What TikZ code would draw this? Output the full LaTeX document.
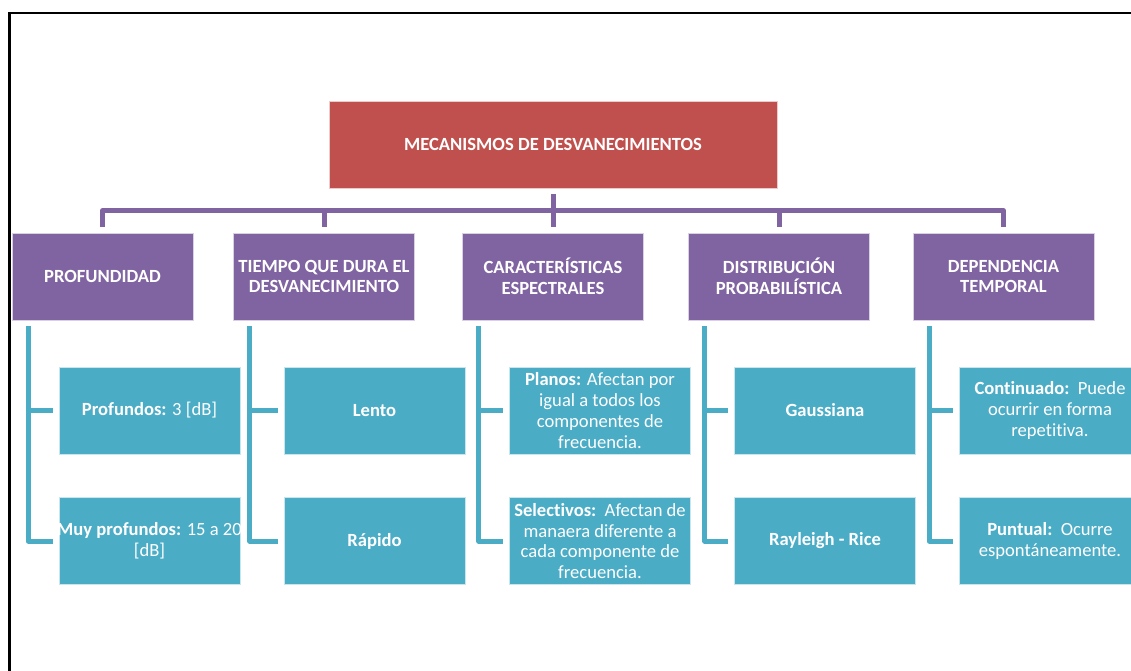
\documentclass[tikz,border=0pt]{standalone}
\usepackage{fontspec}
\setmainfont[Ligatures=NoCommon]{Carlito}
\definecolor{rootred}{HTML}{C0504D}
\definecolor{catpurple}{HTML}{8064A2}
\definecolor{itemteal}{HTML}{4BACC6}
\begin{document}
\begin{tikzpicture}[x=1pt,y=-1pt,
  box/.style={minimum width=181pt, minimum height=87pt, inner sep=0pt,
    align=center, text=white, font=\fontsize{18.6}{20.8}\selectfont,
    draw=white!70!#1, line width=0.6pt, fill=#1},
  rootbox/.style={box=rootred, minimum width=448pt, font=\fontsize{18.6}{20.8}\selectfont\bfseries},
  catbox/.style={box=catpurple, font=\fontsize{18.6}{20.8}\selectfont\bfseries},
  itembox/.style={box=itemteal},
  catlink/.style={draw=catpurple, line width=5pt, line join=round, shorten <=6pt, shorten >=6pt},
  itemlink/.style={draw=itemteal, line width=5pt, line join=round, shorten >=6pt}]
\useasboundingbox (0,0) rectangle (1131,670);
\clip (0,0) rectangle (1131,670);
\fill[white] (0,0) rectangle (1131,670);
% page frame running past the right and bottom edges
\draw[line width=2.5pt] (9.5,13) rectangle (1300,800);

% root
\node[rootbox] (root) at (553,144.5) {MECANISMOS DE DESVANECIMIENTOS};

% categories
\node[catbox] (c1) at (102.5,276.5) {PROFUNDIDAD};
\node[catbox] (c2) at (324,276.5) {TIEMPO QUE DURA EL\\DESVANECIMIENTO};
\node[catbox] (c3) at (553,276.5) {CARACTERÍSTICAS\\ESPECTRALES};
\node[catbox] (c4) at (779,276.5) {DISTRIBUCIÓN\\PROBABILÍSTICA};
\node[catbox] (c5) at (1003.5,276.5) {DEPENDENCIA\\TEMPORAL};

% items (the long first line of a2 is allowed to fill the whole box)
\node[itembox] (a1) at (149.5,410.5) {\textbf{Profundos:} 3 [dB]};
\node[itembox] (a2) at (149.5,541) {\makebox[179pt][c]{\textbf{Muy profundos:} 15 a 20}\\{}[dB]};
\node[itembox] (b1) at (374.5,410.5) {\textbf{Lento}};
\node[itembox] (b2) at (374.5,541) {\textbf{Rápido}};
\node[itembox] (d1) at (600,410.5) {\textbf{Planos:} Afectan por\\igual a todos los\\componentes de\\frecuencia.};
\node[itembox] (d2) at (600,541) {\textbf{Selectivos:}\ \ Afectan de\\manaera diferente a\\cada componente de\\frecuencia.};
\node[itembox] (e1) at (825,410.5) {\textbf{Gaussiana}};
\node[itembox] (e2) at (825,541) {\textbf{Rayleigh - Rice}};
\node[itembox] (f1) at (1050,410.5) {\textbf{Continuado:}\ \ Puede\\ocurrir en forma\\repetitiva.};
\node[itembox] (f2) at (1050,541) {\textbf{Puntual:}\ \ Ocurre\\espontáneamente.};

% root to categories through a common bus
\foreach \c in {c1,c2,c3,c4,c5}
  \draw[catlink] (root.south) -- ++(0,22.5) -| (\c.north);

% categories to their items
\foreach \c/\i/\j in {c1/a1/a2, c2/b1/b2, c3/d1/d2, c4/e1/e2, c5/f1/f2} {
  \coordinate (\c-spine) at ([xshift=16.5pt,yshift=-6pt]\c.south west);
  \draw[itemlink] (\c-spine) |- (\i.west);
  \draw[itemlink] (\c-spine) |- (\j.west);
}
\end{tikzpicture}
\end{document}
